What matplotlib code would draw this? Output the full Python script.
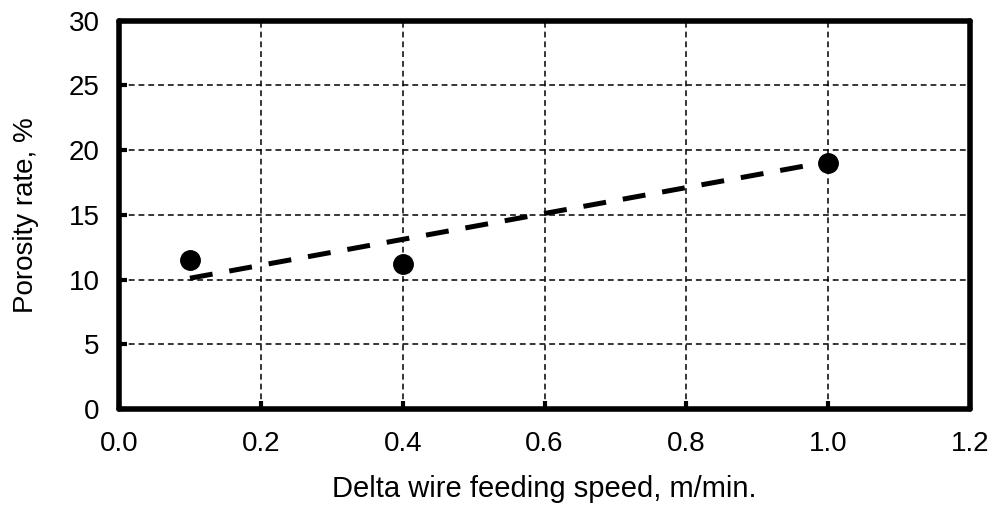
import matplotlib
matplotlib.use("Agg")
import matplotlib.pyplot as plt

plt.rcParams["font.family"] = ["Liberation Sans", "DejaVu Sans"]

# data
speed = [0.1, 0.4, 1.0]
porosity = [11.5, 11.2, 19.0]
trend_x = [0.1, 1.0]
trend_y = [10.1, 19.1]

fig = plt.figure(figsize=(9.95, 5.13), dpi=100)
ax = fig.add_axes([0.1196, 0.2027, 0.8554, 0.7573])

ax.plot(trend_x, trend_y, color="black", lw=3.6, ls=(0, (4.6, 3.4)), zorder=3)
ax.plot(speed, porosity, "o", color="black", ms=14, zorder=4)

ax.set_xlim(0, 1.2)
ax.set_ylim(0, 30)
ax.set_xticks([0, 0.2, 0.4, 0.6, 0.8, 1.0, 1.2])
ax.set_xticklabels(["0.0", "0.2", "0.4", "0.6", "0.8", "1.0", "1.2"])
ax.set_yticks(range(0, 31, 5))

ax.grid(True, color="black", ls=(0, (3.8, 2.6)), lw=1.1)
ax.set_axisbelow(True)
for s in ax.spines.values():
    s.set_linewidth(4)
    s.set_capstyle("round")

ax.tick_params(direction="in", length=6, width=3, labelsize=20, pad=14)
ax.tick_params(axis="x", pad=16)
ax.set_xlabel("Delta wire feeding speed, m/min.", fontsize=21, labelpad=13)
ax.set_ylabel("Porosity rate, %", fontsize=20, labelpad=21)

fig.savefig("out.png", dpi=100)
